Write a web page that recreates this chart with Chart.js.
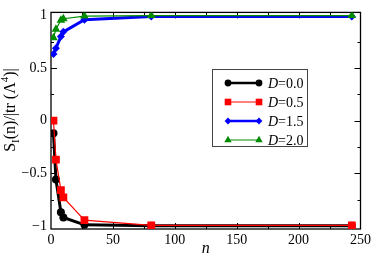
<!DOCTYPE html>
<html><head><meta charset="utf-8">
<script src="https://cdn.jsdelivr.net/npm/chart.js@4/dist/chart.umd.min.js"></script>
<style>html,body{margin:0;padding:0;background:#fff}#wrap{width:374px;height:255px}</style>
</head><body><div id="wrap"><canvas id="c" width="374" height="255"></canvas></div>
<script>
const nValues = [2, 4, 8, 10, 27, 81, 243];
const seriesLabels = ['0.0', '0.5', '1.5', '2.0'];
const d00 = [-0.12, -0.56, -0.87, -0.92, -0.99, -1.0, -1.0];
const d05 = [0.0, -0.37, -0.66, -0.73, -0.945, -0.995, -0.995];
const d15 = [0.635, 0.69, 0.80, 0.845, 0.96, 0.99, 0.99];
const d20 = [0.79, 0.87, 0.955, 0.97, 0.995, 1.0, 1.0];
const xMajor = [0, 50, 100, 150, 200, 250];
const xMinor = [25, 75, 125, 175, 225];
const yMajor = [-1, -0.5, 0, 0.5, 1];
const yMinor = [-0.75, -0.25, 0.25, 0.75];

const SERIF = '"Liberation Serif","Times New Roman",serif';
const GREEN = 'rgb(0,139,0)';
function pts(arr){ return nValues.map((n,i)=>({x:n,y:arr[i]})); }
const styles = [
  {c:'#000000', w:3, ps:'circle', r:4, lw:2.5},
  {c:'#ff0000', w:1.2, ps:'rect', r:5.5, lw:1},
  {c:'#0000ff', w:3, ps:'rectRot', r:4, lw:2.5},
  {c:GREEN, w:1.2, ps:'triangle', r:5, lw:1}
];
const allData = [d00, d05, d15, d20];
const datasets = allData.map((a,i)=>({
  label: 'D=' + seriesLabels[i],
  data: pts(a),
  borderColor: styles[i].c, backgroundColor: styles[i].c,
  borderWidth: styles[i].w, pointStyle: styles[i].ps,
  pointRadius: styles[i].r, pointBorderWidth: 0, pointHoverRadius: styles[i].r,
  order: 4 - i, tension: 0
}));

function fmt(v){ const s = String(v); return s.replace('-', '\u2212'); }

const decor = {
  id: 'decor',
  beforeDatasetsDraw(chart){
    const {ctx, chartArea:a, scales:{x, y}} = chart;
    ctx.save();
    ctx.strokeStyle = '#000'; ctx.lineWidth = 1.3;
    ctx.strokeRect(a.left, a.top, a.right - a.left, a.bottom - a.top);
    ctx.lineWidth = 1;
    ctx.beginPath();
    const tick = (vals, len) => {
      vals.forEach(v => { const px = Math.round(x.getPixelForValue(v)) + 0.5;
        ctx.moveTo(px, a.bottom); ctx.lineTo(px, a.bottom - len);
        ctx.moveTo(px, a.top); ctx.lineTo(px, a.top + len); });
    };
    const ticky = (vals, len) => {
      vals.forEach(v => { const py = Math.round(y.getPixelForValue(v)) + 0.5;
        ctx.moveTo(a.left, py); ctx.lineTo(a.left + len, py);
        ctx.moveTo(a.right, py); ctx.lineTo(a.right - len, py); });
    };
    tick(xMajor.slice(1, -1), 6); tick(xMinor, 3);
    ticky(yMajor.slice(1, -1), 6); ticky(yMinor, 3);
    ctx.stroke();
    // y title
    ctx.fillStyle = '#000';
    ctx.translate(15, 110);
    ctx.rotate(-Math.PI/2);
    const big = '16px ' + SERIF, small = '11px ' + SERIF;
    const parts = [
      {t:'S', f:big, dy:0},
      {t:'I', f:small, dy:4},
      {t:'(n)/|tr (\u039B', f:big, dy:0},
      {t:'4', f:small, dy:-7},
      {t:')|', f:big, dy:0}
    ];
    let total = 0;
    parts.forEach(p => { ctx.font = p.f; p.w = ctx.measureText(p.t).width; total += p.w; });
    let cx = -total/2;
    ctx.textBaseline = 'alphabetic';
    parts.forEach(p => { ctx.font = p.f; ctx.fillText(p.t, cx, p.dy); cx += p.w; });
    ctx.restore();
    // x title
    ctx.save();
    ctx.fillStyle = '#000';
    ctx.font = 'italic 16px ' + SERIF;
    ctx.textAlign = 'center'; ctx.textBaseline = 'alphabetic';
    ctx.fillText('n', (a.left + a.right)/2, 253);
    ctx.restore();
  },
  afterDatasetsDraw(chart){
    const {ctx} = chart;
    ctx.save();
    const bx = 212, by = 69, bw = 95, bh = 77;
    ctx.fillStyle = '#fff'; ctx.fillRect(bx, by, bw, bh);
    ctx.strokeStyle = '#444'; ctx.lineWidth = 1;
    ctx.strokeRect(bx + 0.5, by + 0.5, bw, bh);
    chart.data.datasets.forEach((ds, i) => {
      const yy = 83 + i * 19, x1 = 228, x2 = 259, s = styles[i];
      ctx.strokeStyle = s.c; ctx.lineWidth = s.lw;
      ctx.beginPath(); ctx.moveTo(x1, yy); ctx.lineTo(x2, yy); ctx.stroke();
      const opt = {pointStyle: s.ps, radius: s.r * 0.85, rotation: 0, borderWidth: 0};
      ctx.fillStyle = s.c;
      Chart.helpers.drawPoint(ctx, opt, x1, yy);
      Chart.helpers.drawPoint(ctx, opt, x2, yy);
      ctx.fillStyle = '#000';
      ctx.textBaseline = 'middle';
      ctx.font = 'italic 14px ' + SERIF;
      ctx.fillText('D', 268, yy + 1);
      const dw = ctx.measureText('D').width;
      ctx.font = '14px ' + SERIF;
      ctx.fillText('=' + seriesLabels[i], 268 + dw, yy + 1);
    });
    ctx.restore();
  }
};

new Chart(document.getElementById('c'), {
  type: 'line',
  data: { datasets },
  plugins: [decor],
  options: {
    responsive: false, animation: false, events: [],
    layout: { padding: { left: 0, top: 3, right: 11, bottom: 0 } },
    plugins: { legend: { display: false }, tooltip: { enabled: false } },
    scales: {
      x: {
        type: 'linear', min: 0, max: 250,
        grid: { display: false, drawTicks: false }, border: { display: false },
        afterBuildTicks: s => { s.ticks = xMajor.map(v => ({value: v})); },
        afterFit: s => { s.height = 26; },
        ticks: { color: '#000', padding: 3, maxRotation: 0, autoSkip: false,
          font: { family: SERIF, size: 14 }, callback: v => fmt(v) }
      },
      y: {
        type: 'linear', min: -1.03, max: 1.03,
        grid: { display: false, drawTicks: false }, border: { display: false },
        afterBuildTicks: s => { s.ticks = yMajor.map(v => ({value: v})); },
        afterFit: s => { s.width = 51; },
        ticks: { color: '#000', padding: 4, autoSkip: false,
          font: { family: SERIF, size: 14 }, callback: v => fmt(v) }
      }
    }
  }
});
</script></body></html>
